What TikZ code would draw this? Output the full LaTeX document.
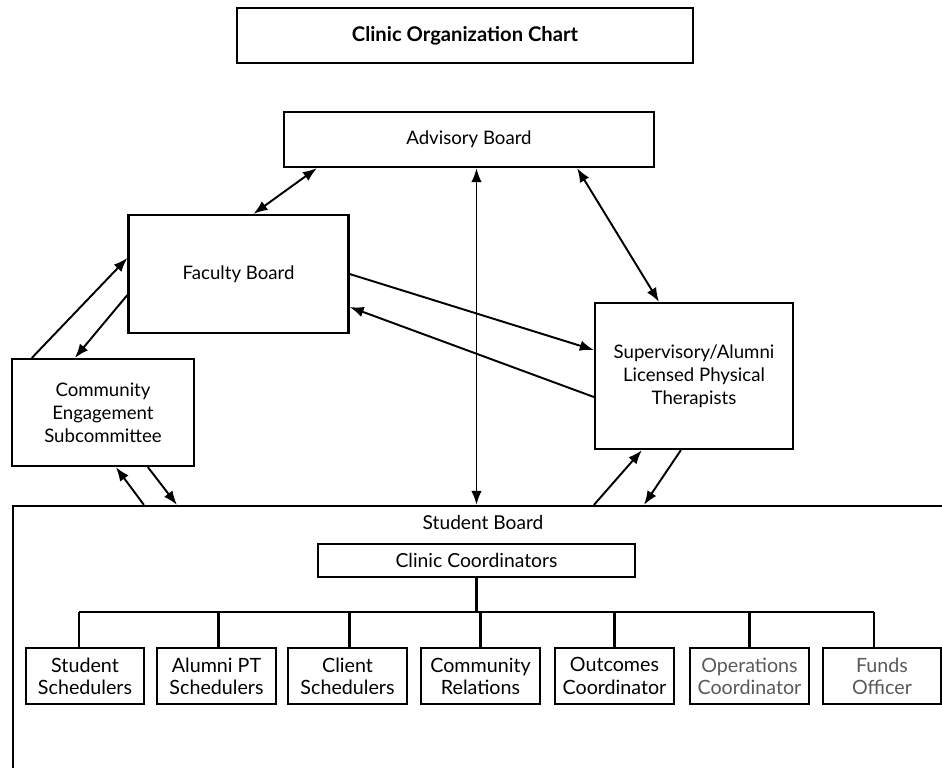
\documentclass[tikz,border=0pt]{standalone}
\usepackage{fontspec}
\setmainfont{Lato}
\usetikzlibrary{positioning}
\usetikzlibrary{arrows.meta}
\usetikzlibrary{calc}

\begin{document}
\begin{tikzpicture}[x=0.02cm, y=-0.02cm,
    box/.style={draw, rectangle, line width=1.3pt, align=center, inner sep=0pt, font=\fontsize{10.6}{13}\selectfont},
    unit/.style={box, line width=1.2pt, minimum width=2.37cm, minimum height=1.12cm, font=\fontsize{11.2}{12.6}\selectfont},
    tree/.style={line width=1.2pt},
    link/.style={{Latex[length=8pt,width=6pt]}-{Latex[length=8pt,width=6pt]}, line width=1.1pt},
    oneway/.style={-{Latex[length=8pt,width=6pt]}, line width=1.1pt}]
            % Clinic organization chart
            \clip (0,0) rectangle (942,767);
            \node[box, minimum width=9.12cm, minimum height=1.1cm, font=\fontsize{11.5}{13}\bfseries] (title) at (465,35.5) {Clinic Organization Chart};
            \node[box, minimum width=7.4cm, minimum height=1.1cm] (adv) at (469,139.5) {Advisory Board};
            \node[box, minimum width=4.4cm, minimum height=2.36cm] (fac) at (238.5,274) {Faculty Board};
            \node[box, minimum width=3.64cm, minimum height=2.14cm] (ces) at (103,412.5) {Community\\Engagement\\Subcommittee};
            \node[box, minimum width=3.96cm, minimum height=2.92cm] (sup) at (694,376) {Supervisory/Alumni\\Licensed Physical\\Therapists};
            \node[box, minimum width=19cm, minimum height=6cm] (sb) at (488,656) {};
            \node[font=\fontsize{10.9}{13}\selectfont] (sbname) at (483,523) {Student Board};
            \node[box, line width=1.2pt, minimum width=6.34cm, minimum height=0.66cm, font=\fontsize{11}{13}\selectfont] (cc) at (476.5,560.5) {Clinic Coordinators};
            
            \node[unit] (ss) at (85,676) {Student\\Schedulers};
            \node[unit] (aps) at (216.5,676) {Alumni PT\\Schedulers};
            \node[unit] (cs) at (347.5,676) {Client\\Schedulers};
            \node[unit] (cr) at (480.5,676) {Community\\Relations};
            \node[unit] (oc) at (614.5,676) {Outcomes\\Coordinator};
            \node[unit, text=black!65] (opc) at (749.5,676) {Operations\\Coordinator};
            \node[unit, text=black!65] (fo) at (882,676) {Funds\\Officer};
            
            % tree under the coordinators
            \coordinate (bus) at (476.5,613);
            \draw[tree] (cc.south) -- (bus);
            \draw[tree] ($(ss.north)+(-6,-35)$) -- ($(fo.north)+(-8,-35)$);
            \draw[tree] ($(ss.north)+(-6,-35)$) -- ($(ss.north)+(-6,0)$);
            \draw[tree] ($(aps.north)+(2,-35)$) -- ($(aps.north)+(2,0)$);
            \draw[tree] ($(cs.north)+(2,-35)$) -- ($(cs.north)+(2,0)$);
            \draw[tree] (cr.north |- bus) -- (cr.north);
            \draw[tree] (oc.north |- bus) -- (oc.north);
            \draw[tree] (opc.north |- bus) -- (opc.north);
            \draw[tree] ($(fo.north)+(-8,-35)$) -- ($(fo.north)+(-8,0)$);
            
            % links between the boards
            \draw[link] ($(adv.south west)+(34,0)$) -- ($(fac.north)+(15,0)$);
            \draw[link] (adv.south -| cc.north) -- (sb.north -| cc.north);
            \draw[link] ($(adv.south east)+(-78,0)$) -- ($(sup.north)+(-35,0)$);
            \draw[oneway] (fac.east) -- ($(sup.west)+(0,-26)$);
            \draw[oneway] ($(sup.west)+(0,21)$) -- ($(fac.east)+(0,33)$);
            \draw[oneway] ($(ces.north west)+(21,0)$) -- ($(fac.west)+(0,-16)$);
            \draw[oneway] ($(fac.west)+(0,21)$) -- ($(ces.north west)+(64,0)$);
            \draw[oneway] ($(sb.north west)+(132,0)$) -- ($(ces.south west)+(105,0)$);
            \draw[oneway] ($(ces.south west)+(137,0)$) -- ($(sb.north west)+(165,0)$);
            \draw[oneway] ($(sb.north west)+(582,0)$) -- ($(sup.south west)+(48,0)$);
            \draw[oneway] ($(sup.south west)+(87,0)$) -- ($(sb.north west)+(632,0)$);
        \end{tikzpicture}
\end{document}
